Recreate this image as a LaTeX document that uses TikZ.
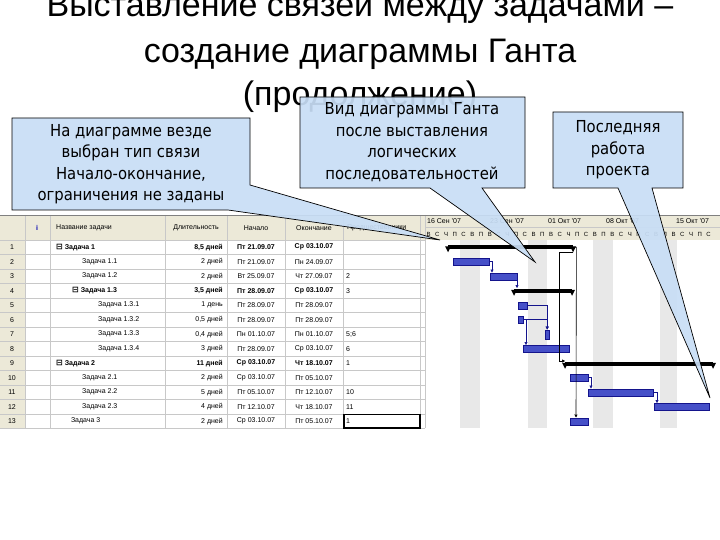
\documentclass[tikz,border=0pt]{standalone}
\usepackage{fontspec}
\setmainfont{Liberation Sans}
\newfontfamily\calfont{DejaVu Sans Condensed}
\newfontfamily\symfont{DejaVu Sans}
\usetikzlibrary{arrows.meta}
\definecolor{calfill}{RGB}{200,222,246}
\definecolor{beige}{RGB}{236,233,216}
\definecolor{gridc}{RGB}{200,200,200}
\definecolor{barblue}{RGB}{70,80,200}
\definecolor{barline}{RGB}{20,20,140}
\tikzset{
 titlet/.style={font=\fontsize{34}{40}\selectfont, anchor=base},
 cell/.style={font=\fontsize{7}{8}\selectfont, inner sep=1pt},
 cellb/.style={cell, font=\fontsize{7}{8}\selectfont\bfseries},
 taskbar/.style={draw=barline, fill=barblue, minimum height=7, inner sep=0, anchor=west},
 sumbar/.style={fill=black, minimum height=4, inner sep=0, anchor=west},
 link/.style={draw=barline, -{Triangle[length=3pt,width=3pt]}, line width=0.6pt},
 callout/.style={draw=black, line width=0.7pt, fill=calfill, fill opacity=0.92},
 caltext/.style={font=\calfont\fontsize{16.5}{21.5}\selectfont, align=center, text opacity=1},
}
\begin{document}
\begin{tikzpicture}[x=1pt,y=-1pt]
\useasboundingbox (0,0) rectangle (720,540);
\fill[white] (0,0) rectangle (720,540);
% title
\node[titlet] (t1) at (360,17) {Выставление связей между задачами –};
\node[titlet] (t2) at (360,63) {создание диаграммы Ганта};
\node[titlet] (t3) at (360,106) {(продолжение)};
% table
\fill[beige] (0,215) rectangle (425,240);
\fill[beige] (0,240) rectangle (25,428);
\fill[beige] (425,215) rectangle (720,240);
\foreach \i in {0,...,13} \draw[gridc] (0,240+14.5*\i) -- (425,240+14.5*\i);
\foreach \x in {25,50,165,227,285,343,420,425} \draw[gridc] (\x,215) -- (\x,428);
\draw[gridc] (425,227.5) -- (720,227.5);
\draw[gray] (0,215) -- (720,215);
% weekend stripes
\foreach \a/\b in {460/480,528/547,593/613,660/677}
  \fill[gray!18] (\a,240) rectangle (\b,428);
% header texts
\node[cell,anchor=west] (h1) at (55,228) {Название задачи};
\node[cell] (h2) at (196,228) {Длительность};
\node[cell] (h3) at (256,228) {Начало};
\node[cell] (h4) at (314,228) {Окончание};
\node[cell,anchor=west] (h5) at (346,228) {Предшественники};
\node[cell,text=blue!70!black] (hi) at (37,228) {\textbf{i}};
\node[cell,anchor=west] (w1) at (426,221) {16 Сен '07};
\node[cell,anchor=west] (w2) at (489,221) {23 Сен '07};
\node[cell,anchor=west] (w3) at (547,221) {01 Окт '07};
\node[cell,anchor=west] (w4) at (605,221) {08 Окт '07};
\node[cell,anchor=west] (w5) at (675,221) {15 Окт '07};
\foreach \L [count=\k from 0] in {В,С,Ч,П,С,В,П,В,С,Ч,П,С,В,П,В,С,Ч,П,С,В,П,В,С,Ч,П,С,В,П,В,С,Ч,П,С}
  \node[cell,font=\fontsize{6}{7}\selectfont] (d\k) at (428.5+8.75*\k,234) {\L};
% rows
\foreach \n/\nm/\ind/\du/\st/\en/\pr/\bb in {
 1/Задача 1/0/{8,5 дней}/Пт 21.09.07/Ср 03.10.07/ /1,
 2/Задача 1.1/1/2 дней/Пт 21.09.07/Пн 24.09.07/ /0,
 3/Задача 1.2/1/2 дней/Вт 25.09.07/Чт 27.09.07/2/0,
 4/Задача 1.3/1/{3,5 дней}/Пт 28.09.07/Ср 03.10.07/3/1,
 5/Задача 1.3.1/2/1 день/Пт 28.09.07/Пт 28.09.07/ /0,
 6/Задача 1.3.2/2/{0,5 дней}/Пт 28.09.07/Пт 28.09.07/ /0,
 7/Задача 1.3.3/2/{0,4 дней}/Пн 01.10.07/Пн 01.10.07/5;6/0,
 8/Задача 1.3.4/2/3 дней/Пт 28.09.07/Ср 03.10.07/6/0,
 9/Задача 2/0/11 дней/Ср 03.10.07/Чт 18.10.07/1/1,
 10/Задача 2.1/1/2 дней/Ср 03.10.07/Пт 05.10.07/ /0,
 11/Задача 2.2/1/5 дней/Пт 05.10.07/Пт 12.10.07/10/0,
 12/Задача 2.3/1/4 дней/Пт 12.10.07/Чт 18.10.07/11/0,
 13/Задача 3/0.3/2 дней/Ср 03.10.07/Пт 05.10.07/1/0}
{
 \pgfmathsetmacro{\yy}{240+14.5*(\n-0.5)}
 \node[cell] (r\n) at (12,\yy) {\n};
 \ifnum\bb=1
   \node[cellb,anchor=west] (nm\n) at (55+16*\ind,\yy) {{\symfont\fontsize{8}{8}\selectfont ⊟}~\nm};
   \node[cellb,anchor=east] (du\n) at (224,\yy) {\du};
   \node[cellb] (st\n) at (256,\yy) {\st};
   \node[cellb] (en\n) at (314,\yy) {\en};
 \else
   \node[cell,anchor=west] (nm\n) at (65+16*\ind,\yy) {\nm};
   \node[cell,anchor=east] (du\n) at (224,\yy) {\du};
   \node[cell] (st\n) at (256,\yy) {\st};
   \node[cell] (en\n) at (314,\yy) {\en};
 \fi
 \node[cell,anchor=west] (pr\n) at (345,\yy) {\pr};
}
\draw[line width=1.2pt] (344,414.5) rectangle (420,428);
% gantt bars
\newcommand\sbar[4]{%
 \node[sumbar,minimum width=#3-#2] (#1) at (#2,#4) {};
 \fill (#2-3,#4-1) -- (#2+3,#4-1) -- (#2,#4+5) -- cycle;
 \fill (#3-3,#4-1) -- (#3+3,#4-1) -- (#3,#4+5) -- cycle;}
\sbar{b1}{448}{573}{247.25}
\sbar{b4}{514}{572}{290.75}
\sbar{b9}{565}{713}{363.75}
\node[taskbar,minimum width=36] (b2) at (453,261.75) {};
\node[taskbar,minimum width=27] (b3) at (490,276.25) {};
\node[taskbar,minimum width=9] (b5) at (518,305.25) {};
\node[taskbar,minimum width=5] (b6) at (518,319.75) {};
\node[taskbar,minimum width=4,minimum height=9] (b7) at (545,334.25) {};
\node[taskbar,minimum width=46] (b8) at (523,348.75) {};
\node[taskbar,minimum width=18] (b10) at (570,377.75) {};
\node[taskbar,minimum width=65] (b11) at (588,392.25) {};
\node[taskbar,minimum width=55] (b12) at (654,406.75) {};
\node[taskbar,minimum width=18] (b13) at (570,421.25) {};
% links
\draw[link] (b2.east) -| ([xshift=2pt]b3.north west);
\draw[link] (b3.east) -| (517,288);
\draw[link] (b5.east) -| (b7.north);
\draw[link] (b6.east) -| (b7.north);
\draw[link] (b6.east) -| ([xshift=3pt]b8.north west);
\draw[link,draw=black] (b1.east) -- ++(3,0) -- (576,417.5);
\draw[link,draw=black] (b1.east) ++(0,5) -| (559,361) -- (565,361);
\draw[link] (b10.east) -| ([xshift=3pt]b11.north west);
\draw[link] (b11.east) -| ([xshift=3pt]b12.north west);
% callouts
\draw[callout] (12,118) -- (250,118) -- (250,185) -- (440,240) -- (228,210) -- (12,210) -- cycle;
\node[caltext] (c1) at (131,164) {На диаграмме везде\\выбран тип связи\\Начало-окончание,\\ограничения не заданы};
\draw[callout] (300,97) -- (525,97) -- (525,188) -- (482,188) -- (535,262) -- (430,188) -- (300,188) -- cycle;
\node[caltext] (c2) at (412,142) {Вид диаграммы Ганта\\после выставления\\логических\\последовательностей};
\draw[callout] (553,112) -- (683,112) -- (683,188) -- (652,188) -- (710,398) -- (618,188) -- (553,188) -- cycle;
\node[caltext] (c3) at (618,150) {Последняя\\работа\\проекта};
\end{tikzpicture}
\end{document}
